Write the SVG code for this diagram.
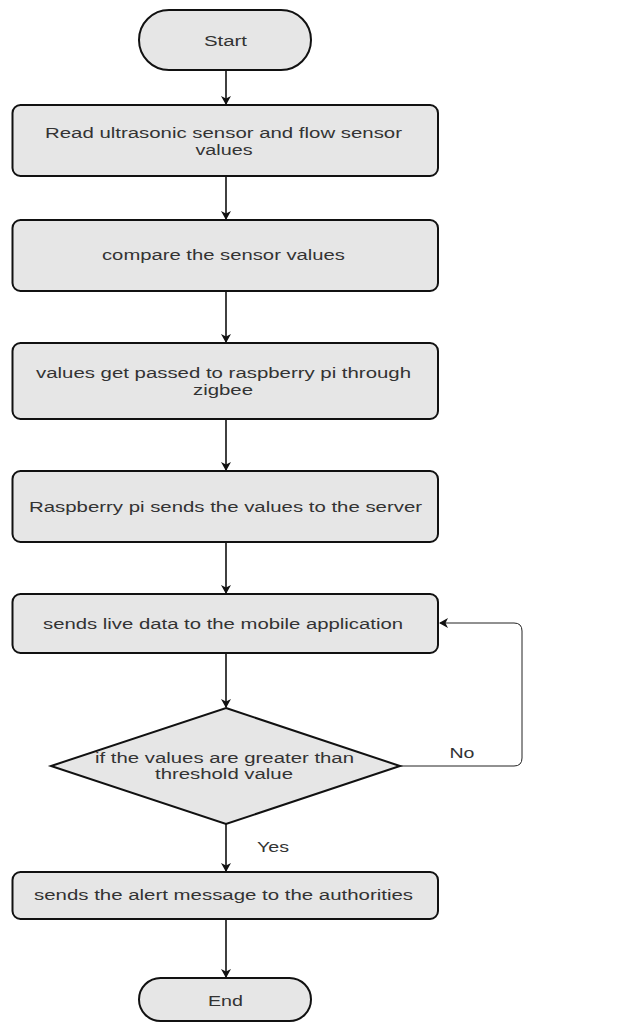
<svg xmlns="http://www.w3.org/2000/svg" width="617" height="1023" viewBox="0 0 617 1023">
<style>
.n{fill:#e6e6e6;stroke:#111;stroke-width:2}
.t{font-family:"Liberation Sans",Arial,sans-serif;font-size:14px;fill:#333;text-anchor:middle}
.c{fill:none;stroke:#111;stroke-width:1.6}
.l{fill:none;stroke:#222;stroke-width:1}
</style>
<defs>
<marker id="ah" markerWidth="10" markerHeight="10" refX="8" refY="5" orient="auto" markerUnits="userSpaceOnUse">
<path d="M0,0 L9,5 L0,10 L2.5,5 Z" fill="#111"/>
</marker>
</defs>
<rect width="617" height="1023" fill="#fff"/>
<g id="connectors">
<path class="c" d="M226,70 V104" marker-end="url(#ah)"/>
<path class="c" d="M226,176 V219" marker-end="url(#ah)"/>
<path class="c" d="M226,291 V342" marker-end="url(#ah)"/>
<path class="c" d="M226,419 V470" marker-end="url(#ah)"/>
<path class="c" d="M226,542 V593" marker-end="url(#ah)"/>
<path class="c" d="M226,653 V707" marker-end="url(#ah)"/>
<path class="c" d="M226,824 V871" marker-end="url(#ah)"/>
<path class="c" d="M226,920 V977" marker-end="url(#ah)"/>
<path class="l" d="M400,766 H514 Q522,766 522,758 V631 Q522,623 514,623 H440" marker-end="url(#ah)"/>
<text class="t" x="462" y="758" textLength="25" lengthAdjust="spacingAndGlyphs">No</text>
<text class="t" x="273" y="852" textLength="32" lengthAdjust="spacingAndGlyphs">Yes</text>
</g>
<g id="start">
<rect class="n" x="139" y="10" width="172" height="60" rx="30" ry="30"/>
<text class="t" x="225.5" y="46" textLength="43" lengthAdjust="spacingAndGlyphs">Start</text>
</g>
<g id="read">
<rect class="n" x="12.5" y="105" width="425.5" height="71" rx="8" ry="8"/>
<text class="t" x="223.5" y="138" textLength="357" lengthAdjust="spacingAndGlyphs">Read ultrasonic sensor and flow sensor</text>
<text class="t" x="224" y="155" textLength="57" lengthAdjust="spacingAndGlyphs">values</text>
</g>
<g id="compare">
<rect class="n" x="12.5" y="220" width="425.5" height="71" rx="8" ry="8"/>
<text class="t" x="223.5" y="260" textLength="243" lengthAdjust="spacingAndGlyphs">compare the sensor values</text>
</g>
<g id="zigbee">
<rect class="n" x="12.5" y="343" width="425.5" height="76" rx="8" ry="8"/>
<text class="t" x="223.5" y="378" textLength="375" lengthAdjust="spacingAndGlyphs">values get passed to raspberry pi through</text>
<text class="t" x="223" y="395" textLength="60" lengthAdjust="spacingAndGlyphs">zigbee</text>
</g>
<g id="server">
<rect class="n" x="12.5" y="471" width="425.5" height="71" rx="8" ry="8"/>
<text class="t" x="225.5" y="512" textLength="393" lengthAdjust="spacingAndGlyphs">Raspberry pi sends the values to the server</text>
</g>
<g id="mobile">
<rect class="n" x="12.5" y="594" width="425.5" height="59" rx="8" ry="8"/>
<text class="t" x="223" y="629" textLength="360" lengthAdjust="spacingAndGlyphs">sends live data to the mobile application</text>
</g>
<g id="decision">
<polygon class="n" points="226,708 400,766 226,824 51,766"/>
<text class="t" x="224.5" y="763" textLength="259" lengthAdjust="spacingAndGlyphs">if the values are greater than</text>
<text class="t" x="224" y="779" textLength="138" lengthAdjust="spacingAndGlyphs">threshold value</text>
</g>
<g id="alert">
<rect class="n" x="12.5" y="872" width="425.5" height="47" rx="8" ry="8"/>
<text class="t" x="223.5" y="900" textLength="379" lengthAdjust="spacingAndGlyphs">sends the alert message to the authorities</text>
</g>
<g id="end">
<rect class="n" x="139" y="978" width="172" height="43" rx="21.5" ry="21.5"/>
<text class="t" x="225.5" y="1006" textLength="35" lengthAdjust="spacingAndGlyphs">End</text>
</g>
</svg>
